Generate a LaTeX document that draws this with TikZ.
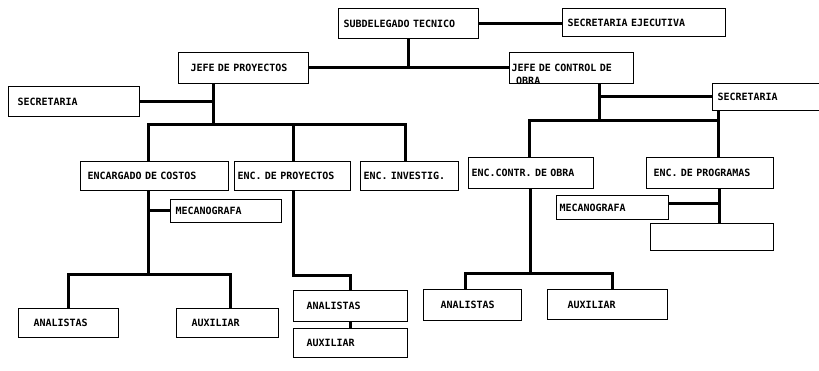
\documentclass[tikz,border=0pt]{standalone}
\usepackage{fontspec}
\newfontfamily\lblfont{DejaVu Sans Mono}
\begin{document}
\begin{tikzpicture}[x=1pt,y=-1pt,
  lbl/.style={font=\lblfont\bfseries\fontsize{10}{12}\selectfont},
  box/.style={lbl, draw, line width=1pt, anchor=north west, inner ysep=0pt, align=left},
  conn/.style={line width=3pt}]
\useasboundingbox[fill=white] (0,0) rectangle (819,371);
% boxes
\node[box, minimum width=140pt, minimum height=30pt, text width=130pt, inner xsep=5pt] (sub) at (338,8) {SUBDELEGADO TECNICO};
\node[box, minimum width=163pt, minimum height=28pt, text width=153pt, inner xsep=5pt] (secej) at (562,8) {SECRETARIA EJECUTIVA};
\node[box, minimum width=130pt, minimum height=31pt, text width=106pt, inner xsep=12pt] (jp) at (178,52) {JEFE DE PROYECTOS};
\node[lbl, anchor=base west, inner sep=0pt] (obra) at (516,85) {OBRA};
\node[box, minimum width=124pt, minimum height=31pt, text width=120pt, inner xsep=2pt] (jc) at (509,52) {JEFE DE CONTROL DE};
\node[box, minimum width=131pt, minimum height=30pt, text width=113pt, inner xsep=9pt] (secL) at (8,86) {SECRETARIA};
\node[box, minimum width=110pt, minimum height=27pt, text width=100pt, inner xsep=5pt] (secR) at (712,83) {SECRETARIA};
\node[box, minimum width=148pt, minimum height=29pt, text width=134pt, inner xsep=7pt] (ec) at (80,161) {ENCARGADO DE COSTOS};
\node[box, minimum width=116pt, minimum height=29pt, text width=110pt, inner xsep=3pt] (ep) at (234,161) {ENC. DE PROYECTOS};
\node[box, minimum width=98pt, minimum height=29pt, text width=92pt, inner xsep=3pt] (ei) at (360,161) {ENC. INVESTIG.};
\node[box, minimum width=125pt, minimum height=31pt, text width=119pt, inner xsep=3pt] (ecn) at (468,157) {ENC.CONTR. DE OBRA};
\node[box, minimum width=127pt, minimum height=31pt, text width=113pt, inner xsep=7pt] (epg) at (646,157) {ENC. DE PROGRAMAS};
\node[box, minimum width=111pt, minimum height=23pt, text width=101pt, inner xsep=5pt] (mecL) at (170,199) {MECANOGRAFA};
\node[box, minimum width=112pt, minimum height=24pt, text width=106pt, inner xsep=3pt] (mecR) at (556,195) {MECANOGRAFA};
\node[box, minimum width=123pt, minimum height=27pt, inner sep=0pt] (empty) at (650,223) {};
\node[box, minimum width=100pt, minimum height=29pt, text width=70pt, inner xsep=15pt] (anL) at (18,308) {ANALISTAS};
\node[box, minimum width=102pt, minimum height=29pt, text width=72pt, inner xsep=15pt] (auxL) at (176,308) {AUXILIAR};
\node[box, minimum width=114pt, minimum height=31pt, text width=88pt, inner xsep=13pt] (anM) at (293,290) {ANALISTAS};
\node[box, minimum width=114pt, minimum height=29pt, text width=88pt, inner xsep=13pt] (auxM) at (293,328) {AUXILIAR};
\node[box, minimum width=98pt, minimum height=31pt, text width=64pt, inner xsep=17pt] (anR) at (423,289) {ANALISTAS};
\node[box, minimum width=120pt, minimum height=30pt, text width=80pt, inner xsep=20pt] (auxR) at (547,289) {AUXILIAR};
% junction points
\coordinate (bL) at (213,125);
\coordinate (bL1) at (148,125);
\coordinate (bL2) at (293,125);
\coordinate (bL3) at (405,125);
\coordinate (bR) at (599,121);
\coordinate (bR1) at (529,121);
\coordinate (bR2) at (718,121);
\coordinate (c1) at (148,275);
\coordinate (c1a) at (68,275);
\coordinate (c1b) at (230,275);
\coordinate (c2) at (293,276);
\coordinate (c2b) at (350,276);
\coordinate (c3) at (530,274);
\coordinate (c3a) at (465,274);
\coordinate (c3b) at (612,274);
\coordinate (c4) at (719,204);
% connectors
\draw[conn] (sub.east) -- (sub.east -| secej.west);
\draw[conn] (sub.south) -- (sub.south |- jp.east);
\draw[conn] (jp.east) -- (jc.west |- jp.east);
\draw[conn] (jp.south -| bL) -- (bL);
\draw[conn] (secL.east) -- (secL.east -| bL);
\draw[conn] (bL1 |- ec.north) -- (bL1) -- (bL3) -- (bL3 |- ei.north);
\draw[conn] (bL2) -- (bL2 |- ep.north);
\draw[conn] (jc.south -| bR) -- (bR);
\draw[conn] (secR.west -| bR) -- (secR.west);
\draw[conn] (bR1 |- ecn.north) -- (bR1) -- (bR2) -- (bR2 |- epg.north);
\draw[conn] (bR2) -- (bR2 |- secR.south);
\draw[conn] (ec.south -| c1) -- (c1);
\draw[conn] (mecL.west -| c1) -- (mecL.west);
\draw[conn] (anL.north -| c1a) -- (c1a) -- (c1b) -- (c1b |- auxL.north);
\draw[conn] (ep.south -| c2) -- (c2) -- (c2b) -- (c2b |- anM.north);
\draw[conn] (anM.south) -- (auxM.north);
\draw[conn] (ecn.south -| c3) -- (c3);
\draw[conn] (anR.north -| c3a) -- (c3a) -- (c3b) -- (c3b |- auxR.north);
\draw[conn] (epg.south -| c4) -- (empty.north -| c4);
\draw[conn] (c4 -| mecR.east) -- (c4);
\end{tikzpicture}
\end{document}
